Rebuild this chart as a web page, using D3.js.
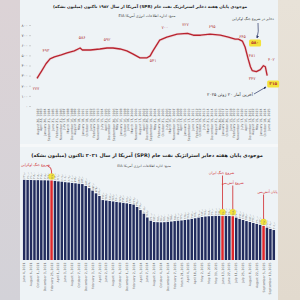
<!DOCTYPE html>
<html><head><meta charset="utf-8">
<script src="https://cdn.jsdelivr.net/npm/d3@7"></script>
<style>html,body{margin:0;padding:0;background:#fff}svg{display:block}text{font-family:"DejaVu Sans",sans-serif}</style>
</head><body><svg id="c" width="300" height="300"></svg>
<script>
// ---------- DATA ----------
const topTitle = "موجودی پایان هفته ذخایر استراتژیک نفت خام (SPR) آمریکا از سال ۱۹۸۲ تاکنون (میلیون بشکه)";
const topSource = "منبع: اداره اطلاعات انرژی آمریکا EIA";
const botTitle = "موجودی پایان هفته ذخایر استراتژیک نفت خام (SPR) آمریکا از سال ۲۰۲۱ تاکنون (میلیون بشکه)";
const botSource = "منبع: اداره اطلاعات انرژی آمریکا EIA";

const topYTicks = [0,100,200,300,400,500,600,700,800];
const topTickDates = ["1982-08-20","1983-04-22","1984-01-20","1984-09-21","1985-06-21","1986-02-21","1986-11-21","1987-07-17","1988-03-18","1988-12-16","1989-08-18","1990-05-18","1991-01-18","1991-10-18","1992-06-19","1993-02-19","1993-11-19","1994-07-15","1995-04-21","1995-12-15","1996-09-20","1997-05-16","1998-01-16","1998-10-16","1999-06-18","2000-03-17","2000-11-17","2001-08-17","2002-04-19","2002-12-20","2003-09-19","2004-05-21","2005-02-18","2005-10-21","2006-07-21","2007-03-16","2007-11-16","2008-08-15","2009-04-17","2010-01-15","2010-09-17","2011-06-17","2012-02-17","2012-10-19","2013-07-19","2014-03-21","2014-12-19","2015-08-21","2016-05-20","2017-01-20","2017-10-20","2018-06-15","2019-02-15","2019-11-15","2020-07-17","2021-04-16","2021-12-17","2022-08-19","2023-05-19","2024-01-19","2024-10-18","2025-06-20"];

const lineDates = ["1982-08-20","1983-07-15","1984-04-20","1985-01-18","1985-11-15","1987-02-20","1988-03-18","1989-07-21","1990-08-17","1991-01-18","1992-07-17","1994-04-15","1995-08-18","1996-09-20","1998-01-16","1999-04-16","2000-05-19","2001-09-21","2003-01-17","2003-08-15","2004-02-20","2005-05-20","2006-09-15","2008-08-15","2010-07-16","2011-08-19","2012-12-21","2014-09-19","2016-08-19","2018-02-16","2019-05-17","2019-12-20","2020-09-18","2021-03-19","2021-10-15","2022-03-18","2022-07-15","2023-04-21","2024-01-19","2024-08-16","2024-12-20","2025-04-25"];
const lineValues = [272,350,417,466,485,505,524,544,573,553,553,563,573,573,563,544,515,476,476,495,544,650,680,709,718,699,699,709,699,680,660,660,641,583,466,388,350,340,359,398,388,301];

// labels on the line: text + point index they refer to
const lineLabelText = ["۲۷۷","۴۹۳","۵۸۶","۵۹۲","۵۴۱","۷۰۰","۷۲۷","۶۹۵","۶۴۵","۴۸۱","۳۴۷","۴۰۲"];
const lineLabelIdx  = [0,2,8,12,19,22,24,27,32,34,36,39];
const yellowLabelText = ["۵۸۰","۳۱۵"];
const yellowLabelIdx  = [33,41];
const noteWar = "ذخایر در شروع جنگ اوکراین";
const noteLast = "آخرین آمار ۲۰ ژوئن ۲۰۲۵";

const barDates = ["2021-06-04","2021-07-02","2021-08-06","2021-09-03","2021-10-01","2021-11-05","2021-12-03","2022-01-07","2022-02-25","2022-03-04","2022-04-01","2022-05-06","2022-06-03","2022-07-01","2022-08-05","2022-09-02","2022-10-07","2022-11-04","2022-12-02","2023-01-06","2023-02-03","2023-03-03","2023-04-07","2023-05-05","2023-06-02","2023-07-07","2023-08-04","2023-09-01","2023-10-06","2023-11-03","2023-12-01","2024-01-05","2024-02-02","2024-03-01","2024-04-05","2024-05-03","2024-06-07","2024-07-05","2024-08-02","2024-09-06","2024-10-04","2024-11-01","2024-12-06","2025-01-03","2025-02-07","2025-03-07","2025-03-21","2025-03-28","2025-04-04","2025-04-11","2025-04-18","2025-04-25","2025-05-02","2025-05-09","2025-05-16","2025-05-23","2025-05-30","2025-06-06","2025-06-13","2025-06-20","2025-06-27","2025-07-04","2025-07-11","2025-07-18","2025-07-25","2025-08-01","2025-08-08","2025-08-15","2025-08-22","2025-08-29","2025-09-05","2025-09-12","2025-09-19","2025-09-26"];
const barValues = [621,620,620,619,619,618,618,617,617,614,611,609,606,604,601,599,596,594,582,568,552,535,518,492,489,486,483,480,477,474,471,467,463,448,428,405,381,360,352,351,350,351,353,355,358,360,362,365,368,372,376,380,384,387,389,390,391,391,390,391,390,389,380,372,365,358,352,346,340,334,327,316,308,301];
const eventIdx = [8,58,61,70];
const eventNames = ["شروع جنگ اوکراین","شروع جنگ ایران","شروع آتش‌بس","پایان آتش‌بس"];

// ---------- HELPERS ----------
const fa = s => String(s).replace(/\d/g, d => "۰۱۲۳۴۵۶۷۸۹"[d]).replace(/\./g,"٫");
const parse = d3.timeParse("%Y-%m-%d");
const fmtDate = d3.timeFormat("%B %-d, %Y");
const svg = d3.select("#c");
function fit(sel, w){ const fs=+sel.attr("font-size"); const l=sel.node().getComputedTextLength(); sel.attr("font-size", fs*w/l); }

// ---------- BACKGROUND ----------
const defs = svg.append("defs");
const gL = defs.append("linearGradient").attr("id","gl").attr("x1",0).attr("x2",0).attr("y1",0).attr("y2",1);
gL.append("stop").attr("offset",0).attr("stop-color","#dcd3d6");
gL.append("stop").attr("offset",1).attr("stop-color","#d3d2d8");
const gR = defs.append("linearGradient").attr("id","gr").attr("x1",0).attr("x2",0).attr("y1",0).attr("y2",1);
gR.append("stop").attr("offset",0).attr("stop-color","#e8e2d8");
gR.append("stop").attr("offset",1).attr("stop-color","#e2dace");
svg.append("rect").attr("x",0).attr("y",0).attr("width",300).attr("height",300).attr("fill","#f6f8f9");
svg.append("rect").attr("x",0).attr("y",0).attr("width",20).attr("height",300).attr("fill","url(#gl)");
svg.append("rect").attr("x",278).attr("y",0).attr("width",22).attr("height",300).attr("fill","url(#gr)");
svg.append("rect").attr("x",20).attr("y",0).attr("width",258).attr("height",144).attr("fill","#eef3f6");
svg.append("rect").attr("x",20).attr("y",147).attr("width",258).attr("height",153).attr("fill","#eef3f6");

// ---------- TOP CHART ----------
const tx = d3.scaleTime().domain([parse(topTickDates[0]), parse(topTickDates[topTickDates.length-1])]).range([37,268]);
const ty = d3.scaleLinear().domain([0,800]).range([106,25]);

const t1 = svg.append("text").attr("x",150).attr("y",8).attr("text-anchor","middle").attr("direction","rtl")
  .attr("font-size",5).attr("font-weight","bold").attr("fill","#222").text(topTitle);
fit(t1,195);
const t2 = svg.append("text").attr("x",147).attr("y",16.5).attr("text-anchor","middle").attr("direction","rtl")
  .attr("font-size",4).attr("fill","#444").text(topSource);
fit(t2,57);

const yAx = svg.append("g").attr("transform","translate(31,0)")
  .call(d3.axisLeft(ty).tickValues(topYTicks).tickFormat(fa).tickSize(2).tickPadding(1));
yAx.select(".domain").remove();
yAx.selectAll("line").attr("stroke","#aaa").attr("stroke-width",0.5);
yAx.selectAll("text").attr("font-size",4).attr("fill","#666");

const xAx = svg.append("g").attr("transform","translate(0,107)")
  .call(d3.axisBottom(tx).tickValues(topTickDates.map(parse)).tickFormat(fmtDate).tickSize(0));
xAx.select(".domain").remove();
xAx.selectAll("text").attr("font-size",3.2).attr("fill","#666")
  .attr("transform","rotate(-90)").attr("x",-1.5).attr("y",0).attr("dy","0.35em").attr("text-anchor","end");

const lineData = lineDates.map((d,i)=>({date:parse(d), v:lineValues[i]}));
const line = d3.line().x(d=>tx(d.date)).y(d=>ty(d.v));
svg.append("path").datum(lineData).attr("d",line).attr("fill","none").attr("stroke","#eab8bc").attr("stroke-width",2.6).attr("opacity",0.5);
svg.append("path").datum(lineData).attr("d",line).attr("fill","none").attr("stroke","#b8232f").attr("stroke-width",1.3).attr("stroke-linejoin","round");

// label offsets (layout)
const lblOff = [[-1,10],[0,-13],[2,-10],[0,-8],[3,5],[-2,-10],[-2,-9],[2,-8],[0,-5],[4,-3],[0,8],[8,-6]];
lineLabelText.forEach((t,i)=>{
  const p = lineData[lineLabelIdx[i]];
  svg.append("text").attr("x",tx(p.date)+lblOff[i][0]).attr("y",ty(p.v)+lblOff[i][1]).attr("dy","0.35em")
    .attr("text-anchor","middle").attr("font-size",4.2).attr("fill","#b33a3a").text(t);
});
const yOff = [[10,-4],[6,8.5]];
yellowLabelText.forEach((t,i)=>{
  const p = lineData[yellowLabelIdx[i]];
  const cx = tx(p.date)+yOff[i][0], cy = ty(p.v)+yOff[i][1];
  svg.append("rect").attr("x",cx-6).attr("y",cy-3.5).attr("width",12).attr("height",7).attr("rx",1.5).attr("fill","#f3e23a");
  svg.append("text").attr("x",cx).attr("y",cy).attr("dy","0.35em").attr("text-anchor","middle")
    .attr("font-size",4.2).attr("font-weight","bold").attr("fill","#b3302f").text(t);
});
defs.append("marker").attr("id","ah").attr("viewBox","0 0 6 6").attr("refX",5).attr("refY",3)
  .attr("markerWidth",4).attr("markerHeight",4).attr("orient","auto")
  .append("path").attr("d","M0,0L6,3L0,6z").attr("fill","#2a3566");
const nw = svg.append("text").attr("x",253).attr("y",20).attr("text-anchor","middle").attr("direction","rtl")
  .attr("font-size",3.8).attr("fill","#333").text(noteWar);
fit(nw,42);
svg.append("path").attr("d","M258,23 Q259,32 257,38").attr("fill","none").attr("stroke","#2a3566").attr("stroke-width",0.7).attr("marker-end","url(#ah)");
const nl = svg.append("text").attr("x",230).attr("y",95.5).attr("text-anchor","middle").attr("direction","rtl")
  .attr("font-size",3.8).attr("fill","#333").text(noteLast);
fit(nl,46);
svg.append("path").attr("d","M254,94 L266,87").attr("fill","none").attr("stroke","#2a3566").attr("stroke-width",0.7).attr("marker-end","url(#ah)");

// ---------- BOTTOM CHART ----------
const b1 = svg.append("text").attr("x",147).attr("y",157).attr("text-anchor","middle").attr("direction","rtl")
  .attr("font-size",5).attr("font-weight","bold").attr("fill","#222").text(botTitle);
fit(b1,232);
const b2 = svg.append("text").attr("x",144).attr("y",166.5).attr("text-anchor","middle").attr("direction","rtl")
  .attr("font-size",4).attr("fill","#444").text(botSource);
fit(b2,54);

const bx = d3.scaleBand().domain(barDates).range([22,276]).padding(0.28);
const by = d3.scaleLinear().domain([110,620]).range([260,180]);
const bw = bx.bandwidth();
const evSet = new Set(eventIdx);

svg.append("g").selectAll("rect").data(barDates).join("rect")
  .attr("x",d=>bx(d)).attr("y",(d,i)=>by(barValues[i])).attr("width",bw)
  .attr("height",(d,i)=>by.range()[0]-by(barValues[i]))
  .attr("fill",(d,i)=>evSet.has(i)?"#e0282c":"#222c5e");

// yellow highlights
eventIdx.forEach(i=>{
  svg.append("circle").attr("cx",bx(barDates[i])+bw/2).attr("cy",by(barValues[i])-4).attr("r",3.2)
    .attr("fill","#f4e12a").attr("opacity",0.9);
});
// value labels
svg.append("g").selectAll("text").data(barDates).join("text")
  .attr("transform",(d,i)=>`translate(${bx(d)+bw/2},${by(barValues[i])-1}) rotate(-90)`)
  .attr("dy","0.35em").attr("font-size",2.8).attr("fill","#777")
  .text((d,i)=>fa(barValues[i].toFixed(1)));

const bAx = svg.append("g").attr("transform","translate(0,261.5)")
  .call(d3.axisBottom(bx).tickValues(barDates.filter((d,i)=>i%2===0)).tickFormat(d=>fmtDate(parse(d))).tickSize(0));
bAx.select(".domain").remove();
bAx.selectAll("text").attr("font-size",3.1).attr("fill","#666")
  .attr("transform","rotate(-90)").attr("x",-1).attr("y",0).attr("dy","0.35em").attr("text-anchor","end");

// event labels (layout)
const evLblDx = [-16,-1,0,4];
const evLblY = [165,173,183,192];
eventIdx.forEach((i,k)=>{
  const cx = bx(barDates[i])+bw/2, top = by(barValues[i])-7;
  svg.append("text").attr("x",cx+evLblDx[k]).attr("y",evLblY[k]).attr("dy","0.35em").attr("text-anchor","middle")
    .attr("direction","rtl").attr("font-size",3.6).attr("fill","#d0262b").text(eventNames[k]);
  const d = k===0 ? `M${cx-4},${evLblY[k]+1} Q${cx},${evLblY[k]+2} ${cx},${evLblY[k]+6} L${cx},${top}`
                  : `M${cx},${evLblY[k]+2.5} L${cx},${top}`;
  svg.append("path").attr("d",d).attr("fill","none").attr("stroke","#d0262b").attr("stroke-width",0.8);
});
</script></body></html>
